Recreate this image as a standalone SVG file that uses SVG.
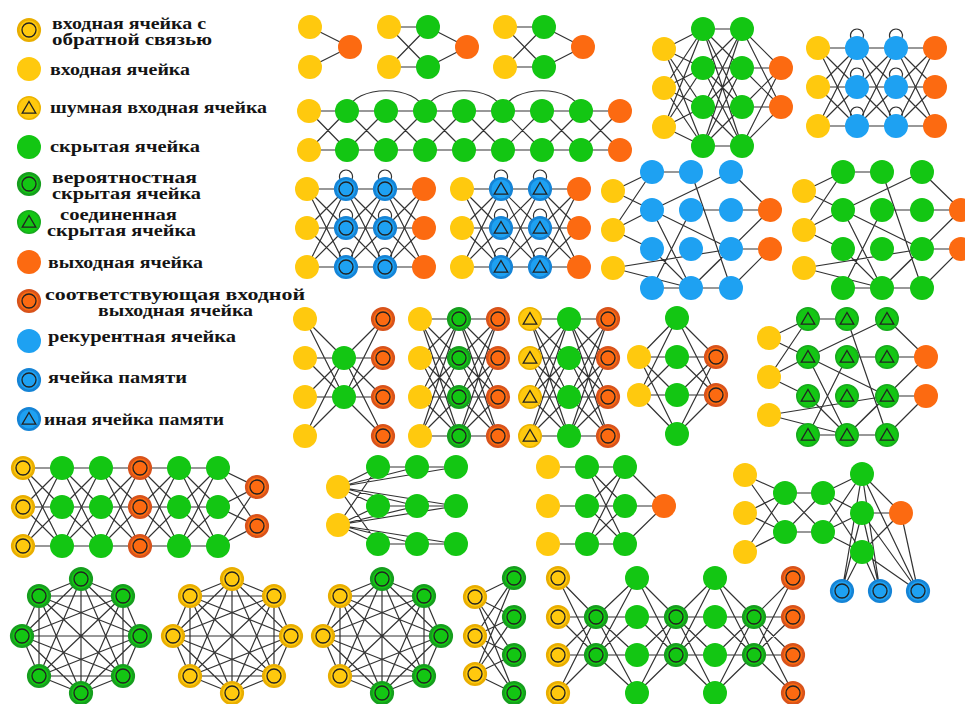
<svg xmlns="http://www.w3.org/2000/svg" width="965" height="704" viewBox="0 0 965 704">
<style>
.lg{font-family:"Liberation Serif","DejaVu Serif",serif;font-weight:bold;font-size:17px;fill:#141414}
.l2{font-size:16px}
</style>
<defs>
<circle id="Y" r="12" fill="#ffc90e"/>
<g id="YC"><circle r="10.8" fill="#ffc90e" stroke="#e9ae00" stroke-width="2.6"/><circle r="7" fill="none" stroke="#222" stroke-width="1.3"/></g>
<g id="YT"><circle r="11.2" fill="#ffc90e" stroke="#ecb400" stroke-width="1.6"/><path d="M0 -6.5L6.8 5.2L-6.8 5.2Z" fill="none" stroke="#222" stroke-width="1.3"/></g>
<circle id="G" r="12" fill="#13c613"/>
<g id="GC"><circle r="10.8" fill="#13c613" stroke="#169e1e" stroke-width="2.6"/><circle r="7" fill="none" stroke="#222" stroke-width="1.3"/></g>
<g id="GT"><circle r="11.2" fill="#13c613" stroke="#18aa1e" stroke-width="1.6"/><path d="M0 -6.5L6.8 5.2L-6.8 5.2Z" fill="none" stroke="#222" stroke-width="1.3"/></g>
<circle id="O" r="12" fill="#fc6a11"/>
<g id="OC"><circle r="10.8" fill="#fc6a11" stroke="#d8531b" stroke-width="2.6"/><circle r="7" fill="none" stroke="#222" stroke-width="1.3"/></g>
<circle id="B" r="12" fill="#1ea1f2"/>
<g id="BC"><circle r="10.8" fill="#1ea1f2" stroke="#1584d6" stroke-width="2.6"/><circle r="7" fill="none" stroke="#222" stroke-width="1.3"/></g>
<g id="BT"><circle r="10.8" fill="#1ea1f2" stroke="#1584d6" stroke-width="2.6"/><path d="M0 -6.5L6.8 5.2L-6.8 5.2Z" fill="none" stroke="#222" stroke-width="1.3"/></g>
<path id="t3" d="M0 0L39 0M0 0L39 39M0 0L39 78M0 39L39 0M0 39L39 39M0 39L39 78M0 78L39 0M0 78L39 39M0 78L39 78"/>
<path id="t4" d="M0 0L39 0M0 0L39 39M0 0L39 78M0 0L39 117M0 39L39 0M0 39L39 39M0 39L39 78M0 39L39 117M0 78L39 0M0 78L39 39M0 78L39 78M0 78L39 117M0 117L39 0M0 117L39 39M0 117L39 78M0 117L39 117"/>
<path id="lp6" d="M33 -10A6.5 6.5 0 1 1 45 -10M33 29A6.5 6.5 0 1 1 45 29M33 68A6.5 6.5 0 1 1 45 68M72 -10A6.5 6.5 0 1 1 84 -10M72 29A6.5 6.5 0 1 1 84 29M72 68A6.5 6.5 0 1 1 84 68"/>
<path id="esn" d="M0 0L39 -19M0 0L39 19M0 39L39 -19M0 39L39 19M0 39L39 58M0 77L118 58M0 77L78 97M39 -19L78 -19M39 19L118 -19M39 19L118 58M39 19L78 97M39 58L78 97M39 97L78 97M39 97L78 19M78 -19L118 97M78 19L118 19M78 97L118 97M78 97L118 58M78 97L157 19M118 -19L157 19M118 19L157 19M118 58L157 58M118 97L157 58"/>
<path id="k8" d="M0 -57L42 -40M0 -57L59 0M0 -57L42 40M0 -57L0 57M0 -57L-42 40M0 -57L-59 0M0 -57L-42 -40M42 -40L59 0M42 -40L42 40M42 -40L0 57M42 -40L-42 40M42 -40L-59 0M42 -40L-42 -40M59 0L42 40M59 0L0 57M59 0L-42 40M59 0L-59 0M59 0L-42 -40M42 40L0 57M42 40L-42 40M42 40L-59 0M42 40L-42 -40M0 57L-42 40M0 57L-59 0M0 57L-42 -40M-42 40L-59 0M-42 40L-42 -40M-59 0L-42 -40"/>
</defs>
<rect width="965" height="704" fill="#ffffff"/>

<g id="legend">
<use href="#YC" x="29" y="30"/><use href="#Y" x="29" y="69"/><use href="#YT" x="29" y="108"/><use href="#G" x="29" y="147"/><use href="#GC" x="29" y="184"/><use href="#GT" x="29" y="222"/><use href="#O" x="29" y="262"/><use href="#OC" x="29" y="301"/><use href="#B" x="29" y="341"/><use href="#BC" x="29" y="380"/><use href="#BT" x="29" y="419"/>
<text class="lg l2"><tspan x="52" y="29" textLength="154" lengthAdjust="spacingAndGlyphs">входная ячейка с</tspan><tspan x="52" y="45" textLength="160" lengthAdjust="spacingAndGlyphs">обратной связью</tspan></text>
<text class="lg" x="50" y="75" textLength="140" lengthAdjust="spacingAndGlyphs">входная ячейка</text>
<text class="lg" x="50" y="113" textLength="217" lengthAdjust="spacingAndGlyphs">шумная входная ячейка</text>
<text class="lg" x="50" y="152" textLength="150" lengthAdjust="spacingAndGlyphs">скрытая ячейка</text>
<text class="lg l2"><tspan x="52" y="183" textLength="145" lengthAdjust="spacingAndGlyphs">вероятностная</tspan><tspan x="52" y="199" textLength="149" lengthAdjust="spacingAndGlyphs">скрытая ячейка</tspan></text>
<text class="lg l2"><tspan x="60" y="220" textLength="117" lengthAdjust="spacingAndGlyphs">соединенная</tspan><tspan x="47" y="236" textLength="149" lengthAdjust="spacingAndGlyphs">скрытая ячейка</tspan></text>
<text class="lg" x="48" y="268" textLength="155" lengthAdjust="spacingAndGlyphs">выходная ячейка</text>
<text class="lg l2"><tspan x="45" y="300" textLength="260" lengthAdjust="spacingAndGlyphs">соответствующая входной</tspan><tspan x="98" y="316" textLength="155" lengthAdjust="spacingAndGlyphs">выходная ячейка</tspan></text>
<text class="lg" x="48" y="342" textLength="188" lengthAdjust="spacingAndGlyphs">рекурентная ячейка</text>
<text class="lg" x="48" y="383" textLength="139" lengthAdjust="spacingAndGlyphs">ячейка памяти</text>
<text class="lg" x="44" y="425" textLength="180" lengthAdjust="spacingAndGlyphs">иная ячейка памяти</text>
</g>

<g id="connectors" fill="none" stroke="#333" stroke-width="1.2">
<path id="c-perceptron" d="M310 27L350 47M310 67L350 47"/>
<path id="c-ff" d="M389 27L428 27M389 27L428 67M389 67L428 27M389 67L428 67M428 27L467 47M428 67L467 47"/>
<path id="c-rbf" d="M505 27L544 27M505 27L544 67M505 67L544 27M505 67L544 67M544 27L583 47M544 67L583 47"/>
<path id="c-drn" d="M309 111L347 111M309 111L347 150M309 150L347 111M309 150L347 150M347 111L386 111M347 111L386 150M347 150L386 111M347 150L386 150M386 111L425 111M386 111L425 150M386 150L425 111M386 150L425 150M425 111L464 111M425 111L464 150M425 150L464 111M425 150L464 150M464 111L503 111M464 111L503 150M464 150L503 111M464 150L503 150M503 111L542 111M503 111L542 150M503 150L542 111M503 150L542 150M542 111L581 111M542 111L581 150M542 150L581 111M542 150L581 150M581 111L620 111M581 111L620 150M581 150L620 111M581 150L620 150M347 111C354 84 418 84 425 111M425 111C432 84 496 84 503 111M503 111C510 84 574 84 581 111"/>
<g id="c-dff">
<path d="M664 49L703 29M664 49L703 68M664 49L703 107M664 49L703 146M664 88L703 29M664 88L703 68M664 88L703 107M664 88L703 146M664 127L703 29M664 127L703 68M664 127L703 107M664 127L703 146M742 29L781 68M742 29L781 107M742 68L781 68M742 68L781 107M742 107L781 68M742 107L781 107M742 146L781 68M742 146L781 107"/>
<use href="#t4" x="703" y="29"/>
</g>
<g id="c-rnn"><use href="#t3" x="818" y="48"/><use href="#t3" x="857" y="48"/><use href="#t3" x="896" y="48"/><use href="#lp6" x="818" y="48"/></g>
<g id="c-lstm"><use href="#t3" x="307" y="189"/><use href="#t3" x="346" y="189"/><use href="#t3" x="385" y="189"/><use href="#lp6" x="307" y="189"/></g>
<g id="c-gru"><use href="#t3" x="462" y="189"/><use href="#t3" x="501" y="189"/><use href="#t3" x="540" y="189"/><use href="#lp6" x="462" y="189"/></g>
<use id="c-esn" href="#esn" x="613" y="191"/>
<use id="c-elm" href="#esn" x="804" y="191"/>
<path id="c-ae" d="M305 319L344 358M305 319L344 397M305 358L344 358M305 358L344 397M305 397L344 358M305 397L344 397M305 436L344 358M305 436L344 397M344 358L383 319M344 358L383 358M344 358L383 397M344 358L383 436M344 397L383 319M344 397L383 358M344 397L383 397M344 397L383 436"/>
<g id="c-vae"><use href="#t4" x="420" y="319"/><use href="#t4" x="459" y="319"/></g>
<g id="c-dae"><use href="#t4" x="530" y="319"/><use href="#t4" x="569" y="319"/></g>
<path id="c-sae" d="M639 357L677 318M639 357L677 357M639 357L677 395M639 357L677 434M639 395L677 318M639 395L677 357M639 395L677 395M639 395L677 434M677 318L716 357M677 318L716 395M677 357L716 357M677 357L716 395M677 395L716 357M677 395L716 395M677 434L716 357M677 434L716 395"/>
<use id="c-lsm" href="#esn" x="769" y="338"/>
<g id="c-dn"><use href="#t3" x="23" y="468"/><use href="#t3" x="62" y="468"/><use href="#t3" x="101" y="468"/><use href="#t3" x="140" y="468"/><use href="#t3" x="179" y="468"/>
<path d="M218 468L257 487M218 468L257 526M218 507L257 487M218 507L257 526M218 546L257 487M218 546L257 526"/></g>
<path id="c-kn" d="M338 487L378 467M338 487L378 506M338 487L378 544M338 487L417 467M338 487L417 506M338 487L456 467M338 487L456 506M338 525L378 467M338 525L378 506M338 525L378 544M338 525L417 506M338 525L417 544M338 525L456 544M338 525L456 506M378 467L417 467M417 467L456 467M378 506L417 506M417 506L456 506M378 544L417 544M417 544L456 544"/>
<path id="c-dcn" d="M548 467L587 467M548 506L587 506M548 544L587 544M587 467L625 467M587 467L625 506M587 467L625 544M587 506L625 467M587 506L625 506M587 506L625 544M587 544L625 467M587 544L625 506M587 544L625 544M625 467L664 506M625 506L664 506M625 544L664 506"/>
<path id="c-ntm" d="M745 475L785 493M745 475L785 532M745 513L785 493M745 513L785 532M745 552L785 493M745 552L785 532M785 493L823 493M785 493L823 532M785 532L823 493M785 532L823 532M823 493L862 474M823 493L862 513M823 493L862 552M823 532L862 474M823 532L862 513M823 532L862 552M862 474L901 513M862 513L901 513M862 552L901 513M862 474L842 591M862 474L880 591M862 474L918 591M862 513L842 591M862 513L880 591M862 513L918 591M862 552L842 591M862 552L880 591M862 552L918 591M901 513L918 591"/>
<use id="c-hn" href="#k8" x="81" y="636"/>
<use id="c-mc" href="#k8" x="232" y="636"/>
<use id="c-bm" href="#k8" x="382" y="636"/>
<path id="c-rbm" d="M475 597L514 578M475 597L514 617M475 597L514 655M475 597L514 693M475 636L514 578M475 636L514 617M475 636L514 655M475 636L514 693M475 674L514 578M475 674L514 617M475 674L514 655M475 674L514 693"/>
<path id="c-dbn" d="M558 578L596 617M558 578L596 655M558 617L596 617M558 617L596 655M558 655L596 617M558 655L596 655M558 693L596 617M558 693L596 655M596 617L637 578M596 617L637 617M596 617L637 655M596 617L637 693M596 655L637 578M596 655L637 617M596 655L637 655M596 655L637 693M637 578L676 617M637 578L676 655M637 617L676 617M637 617L676 655M637 655L676 617M637 655L676 655M637 693L676 617M637 693L676 655M676 617L715 578M676 617L715 617M676 617L715 655M676 617L715 693M676 655L715 578M676 655L715 617M676 655L715 655M676 655L715 693M715 578L754 617M715 578L754 655M715 617L754 617M715 617L754 655M715 655L754 617M715 655L754 655M715 693L754 617M715 693L754 655M754 617L793 578M754 617L793 617M754 617L793 655M754 617L793 693M754 655L793 578M754 655L793 617M754 655L793 655M754 655L793 693"/>
</g>

<g id="n-perceptron"><use href="#Y" x="310" y="27"/><use href="#Y" x="310" y="67"/><use href="#O" x="350" y="47"/></g>
<g id="n-ff"><use href="#Y" x="389" y="27"/><use href="#Y" x="389" y="67"/><use href="#G" x="428" y="27"/><use href="#G" x="428" y="67"/><use href="#O" x="467" y="47"/></g>
<g id="n-rbf"><use href="#Y" x="505" y="27"/><use href="#Y" x="505" y="67"/><use href="#G" x="544" y="27"/><use href="#G" x="544" y="67"/><use href="#O" x="583" y="47"/></g>
<g id="n-drn"><use href="#Y" x="309" y="111"/><use href="#Y" x="309" y="150"/>
<use href="#G" x="347" y="111"/><use href="#G" x="347" y="150"/><use href="#G" x="386" y="111"/><use href="#G" x="386" y="150"/><use href="#G" x="425" y="111"/><use href="#G" x="425" y="150"/><use href="#G" x="464" y="111"/><use href="#G" x="464" y="150"/><use href="#G" x="503" y="111"/><use href="#G" x="503" y="150"/><use href="#G" x="542" y="111"/><use href="#G" x="542" y="150"/><use href="#G" x="581" y="111"/><use href="#G" x="581" y="150"/>
<use href="#O" x="620" y="111"/><use href="#O" x="620" y="150"/></g>
<g id="n-dff"><use href="#Y" x="664" y="49"/><use href="#Y" x="664" y="88"/><use href="#Y" x="664" y="127"/>
<use href="#G" x="703" y="29"/><use href="#G" x="703" y="68"/><use href="#G" x="703" y="107"/><use href="#G" x="703" y="146"/>
<use href="#G" x="742" y="29"/><use href="#G" x="742" y="68"/><use href="#G" x="742" y="107"/><use href="#G" x="742" y="146"/>
<use href="#O" x="781" y="68"/><use href="#O" x="781" y="107"/></g>
<g id="n-rnn"><use href="#Y" x="818" y="48"/><use href="#Y" x="818" y="87"/><use href="#Y" x="818" y="126"/>
<use href="#B" x="857" y="48"/><use href="#B" x="857" y="87"/><use href="#B" x="857" y="126"/><use href="#B" x="896" y="48"/><use href="#B" x="896" y="87"/><use href="#B" x="896" y="126"/>
<use href="#O" x="935" y="48"/><use href="#O" x="935" y="87"/><use href="#O" x="935" y="126"/></g>
<g id="n-lstm"><use href="#Y" x="307" y="189"/><use href="#Y" x="307" y="228"/><use href="#Y" x="307" y="267"/>
<use href="#BC" x="346" y="189"/><use href="#BC" x="346" y="228"/><use href="#BC" x="346" y="267"/><use href="#BC" x="385" y="189"/><use href="#BC" x="385" y="228"/><use href="#BC" x="385" y="267"/>
<use href="#O" x="424" y="189"/><use href="#O" x="424" y="228"/><use href="#O" x="424" y="267"/></g>
<g id="n-gru"><use href="#Y" x="462" y="189"/><use href="#Y" x="462" y="228"/><use href="#Y" x="462" y="267"/>
<use href="#BT" x="501" y="189"/><use href="#BT" x="501" y="228"/><use href="#BT" x="501" y="267"/><use href="#BT" x="540" y="189"/><use href="#BT" x="540" y="228"/><use href="#BT" x="540" y="267"/>
<use href="#O" x="579" y="189"/><use href="#O" x="579" y="228"/><use href="#O" x="579" y="267"/></g>
<g id="n-esn"><use href="#Y" x="613" y="191"/><use href="#Y" x="613" y="230"/><use href="#Y" x="613" y="268"/>
<use href="#B" x="652" y="172"/><use href="#B" x="652" y="210"/><use href="#B" x="652" y="249"/><use href="#B" x="652" y="288"/>
<use href="#B" x="691" y="172"/><use href="#B" x="691" y="210"/><use href="#B" x="691" y="249"/><use href="#B" x="691" y="288"/>
<use href="#B" x="731" y="172"/><use href="#B" x="731" y="210"/><use href="#B" x="731" y="249"/><use href="#B" x="731" y="288"/>
<use href="#O" x="770" y="210"/><use href="#O" x="770" y="249"/></g>
<g id="n-elm"><use href="#Y" x="804" y="191"/><use href="#Y" x="804" y="230"/><use href="#Y" x="804" y="268"/>
<use href="#G" x="843" y="172"/><use href="#G" x="843" y="210"/><use href="#G" x="843" y="249"/><use href="#G" x="843" y="288"/>
<use href="#G" x="882" y="172"/><use href="#G" x="882" y="210"/><use href="#G" x="882" y="249"/><use href="#G" x="882" y="288"/>
<use href="#G" x="922" y="172"/><use href="#G" x="922" y="210"/><use href="#G" x="922" y="249"/><use href="#G" x="922" y="288"/>
<use href="#O" x="961" y="210"/><use href="#O" x="961" y="249"/></g>
<g id="n-ae"><use href="#Y" x="305" y="319"/><use href="#Y" x="305" y="358"/><use href="#Y" x="305" y="397"/><use href="#Y" x="305" y="436"/>
<use href="#G" x="344" y="358"/><use href="#G" x="344" y="397"/>
<use href="#OC" x="383" y="319"/><use href="#OC" x="383" y="358"/><use href="#OC" x="383" y="397"/><use href="#OC" x="383" y="436"/></g>
<g id="n-vae"><use href="#Y" x="420" y="319"/><use href="#Y" x="420" y="358"/><use href="#Y" x="420" y="397"/><use href="#Y" x="420" y="436"/>
<use href="#GC" x="459" y="319"/><use href="#GC" x="459" y="358"/><use href="#GC" x="459" y="397"/><use href="#GC" x="459" y="436"/>
<use href="#OC" x="498" y="319"/><use href="#OC" x="498" y="358"/><use href="#OC" x="498" y="397"/><use href="#OC" x="498" y="436"/></g>
<g id="n-dae"><use href="#YT" x="530" y="319"/><use href="#YT" x="530" y="358"/><use href="#YT" x="530" y="397"/><use href="#YT" x="530" y="436"/>
<use href="#G" x="569" y="319"/><use href="#G" x="569" y="358"/><use href="#G" x="569" y="397"/><use href="#G" x="569" y="436"/>
<use href="#OC" x="608" y="319"/><use href="#OC" x="608" y="358"/><use href="#OC" x="608" y="397"/><use href="#OC" x="608" y="436"/></g>
<g id="n-sae"><use href="#Y" x="639" y="357"/><use href="#Y" x="639" y="395"/>
<use href="#G" x="677" y="318"/><use href="#G" x="677" y="357"/><use href="#G" x="677" y="395"/><use href="#G" x="677" y="434"/>
<use href="#OC" x="716" y="357"/><use href="#OC" x="716" y="395"/></g>
<g id="n-lsm"><use href="#Y" x="769" y="338"/><use href="#Y" x="769" y="377"/><use href="#Y" x="769" y="415"/>
<use href="#GT" x="808" y="319"/><use href="#GT" x="808" y="357"/><use href="#GT" x="808" y="396"/><use href="#GT" x="808" y="435"/>
<use href="#GT" x="847" y="319"/><use href="#GT" x="847" y="357"/><use href="#GT" x="847" y="396"/><use href="#GT" x="847" y="435"/>
<use href="#GT" x="887" y="319"/><use href="#GT" x="887" y="357"/><use href="#GT" x="887" y="396"/><use href="#GT" x="887" y="435"/>
<use href="#O" x="926" y="357"/><use href="#O" x="926" y="396"/></g>
<g id="n-dn"><use href="#YC" x="23" y="468"/><use href="#YC" x="23" y="507"/><use href="#YC" x="23" y="546"/>
<use href="#G" x="62" y="468"/><use href="#G" x="62" y="507"/><use href="#G" x="62" y="546"/><use href="#G" x="101" y="468"/><use href="#G" x="101" y="507"/><use href="#G" x="101" y="546"/>
<use href="#OC" x="140" y="468"/><use href="#OC" x="140" y="507"/><use href="#OC" x="140" y="546"/>
<use href="#G" x="179" y="468"/><use href="#G" x="179" y="507"/><use href="#G" x="179" y="546"/><use href="#G" x="218" y="468"/><use href="#G" x="218" y="507"/><use href="#G" x="218" y="546"/>
<use href="#OC" x="257" y="487"/><use href="#OC" x="257" y="526"/></g>
<g id="n-kn"><use href="#Y" x="338" y="487"/><use href="#Y" x="338" y="525"/>
<use href="#G" x="378" y="467"/><use href="#G" x="378" y="506"/><use href="#G" x="378" y="544"/><use href="#G" x="417" y="467"/><use href="#G" x="417" y="506"/><use href="#G" x="417" y="544"/><use href="#G" x="456" y="467"/><use href="#G" x="456" y="506"/><use href="#G" x="456" y="544"/></g>
<g id="n-dcn"><use href="#Y" x="548" y="467"/><use href="#Y" x="548" y="506"/><use href="#Y" x="548" y="544"/>
<use href="#G" x="587" y="467"/><use href="#G" x="587" y="506"/><use href="#G" x="587" y="544"/><use href="#G" x="625" y="467"/><use href="#G" x="625" y="506"/><use href="#G" x="625" y="544"/>
<use href="#O" x="664" y="506"/></g>
<g id="n-ntm"><use href="#Y" x="745" y="475"/><use href="#Y" x="745" y="513"/><use href="#Y" x="745" y="552"/>
<use href="#G" x="785" y="493"/><use href="#G" x="785" y="532"/><use href="#G" x="823" y="493"/><use href="#G" x="823" y="532"/>
<use href="#G" x="862" y="474"/><use href="#G" x="862" y="513"/><use href="#G" x="862" y="552"/>
<use href="#O" x="901" y="513"/>
<use href="#BC" x="842" y="591"/><use href="#BC" x="880" y="591"/><use href="#BC" x="918" y="591"/></g>
<g id="n-hn"><use href="#GC" x="81" y="579"/><use href="#GC" x="123" y="596"/><use href="#GC" x="140" y="636"/><use href="#GC" x="123" y="676"/><use href="#GC" x="81" y="693"/><use href="#GC" x="39" y="676"/><use href="#GC" x="22" y="636"/><use href="#GC" x="39" y="596"/></g>
<g id="n-mc"><use href="#YC" x="232" y="579"/><use href="#YC" x="274" y="596"/><use href="#YC" x="291" y="636"/><use href="#YC" x="274" y="676"/><use href="#YC" x="232" y="693"/><use href="#YC" x="190" y="676"/><use href="#YC" x="173" y="636"/><use href="#YC" x="190" y="596"/></g>
<g id="n-bm"><use href="#GC" x="382" y="579"/><use href="#GC" x="424" y="596"/><use href="#GC" x="441" y="636"/><use href="#GC" x="424" y="676"/><use href="#GC" x="382" y="693"/><use href="#YC" x="340" y="676"/><use href="#YC" x="323" y="636"/><use href="#YC" x="340" y="596"/></g>
<g id="n-rbm"><use href="#YC" x="475" y="597"/><use href="#YC" x="475" y="636"/><use href="#YC" x="475" y="674"/>
<use href="#GC" x="514" y="578"/><use href="#GC" x="514" y="617"/><use href="#GC" x="514" y="655"/><use href="#GC" x="514" y="693"/></g>
<g id="n-dbn"><use href="#YC" x="558" y="578"/><use href="#YC" x="558" y="617"/><use href="#YC" x="558" y="655"/><use href="#YC" x="558" y="693"/>
<use href="#GC" x="596" y="617"/><use href="#GC" x="596" y="655"/>
<use href="#G" x="637" y="578"/><use href="#G" x="637" y="617"/><use href="#G" x="637" y="655"/><use href="#G" x="637" y="693"/>
<use href="#GC" x="676" y="617"/><use href="#GC" x="676" y="655"/>
<use href="#G" x="715" y="578"/><use href="#G" x="715" y="617"/><use href="#G" x="715" y="655"/><use href="#G" x="715" y="693"/>
<use href="#GC" x="754" y="617"/><use href="#GC" x="754" y="655"/>
<use href="#OC" x="793" y="578"/><use href="#OC" x="793" y="617"/><use href="#OC" x="793" y="655"/><use href="#OC" x="793" y="693"/></g>
</svg>
